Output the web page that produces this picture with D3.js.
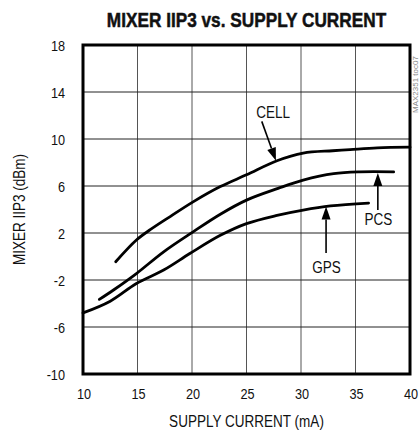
<!DOCTYPE html>
<html>
<head>
<meta charset="utf-8">
<script src="https://cdn.jsdelivr.net/npm/d3@7"></script>
<style>
  html, body { margin: 0; padding: 0; background: #fff; }
  svg text { font-family: "Liberation Sans", Arial, Helvetica, sans-serif; fill: #111; }
</style>
</head>
<body>
<svg id="chart" width="420" height="436"></svg>
<script>
// values
const xTicks = [10, 15, 20, 25, 30, 35, 40];
const yTicks = [-10, -6, -2, 2, 6, 10, 14, 18];

const cell = [
  [13.0, -0.45], [14.9, 1.4], [16.2, 2.3], [18.0, 3.4], [20.1, 4.65],
  [22.6, 5.95], [25.0, 6.95], [27.8, 8.15], [30.2, 8.8], [32.9, 9.0],
  [34.5, 9.1], [37.0, 9.25], [40.0, 9.3]
];
const pcs = [
  [11.5, -3.65], [12.8, -2.85], [14.9, -1.45], [17.4, 0.4], [20.1, 2.1],
  [22.6, 3.6], [25.0, 4.8], [27.9, 5.8], [30.2, 6.5], [33.0, 7.05],
  [35.4, 7.2], [38.5, 7.2]
];
const gps = [
  [10.0, -4.8], [12.5, -3.8], [14.9, -2.3], [17.4, -1.15], [19.8, 0.25],
  [22.6, 1.8], [25.0, 2.8], [27.8, 3.5], [30.2, 3.95], [32.7, 4.3],
  [36.2, 4.55]
];

// label text, arrow start and arrow tip (data units)
const labels = [
  { name: "CELL", text: [27.45, 11.75], from: [26.4, 11.5], to: [27.7, 8.15] },
  { name: "PCS", text: [37.1, 2.7], from: [37.05, 3.95], to: [37.05, 7.1] },
  { name: "GPS", text: [32.35, -1.4], from: [32.3, 0.3], to: [32.3, 4.25] }
];

const svg = d3.select("#chart");
const m = { left: 83, right: 410, top: 45, bottom: 374 };

const x = d3.scaleLinear().domain([10, 40]).range([m.left, m.right]);
const y = d3.scaleLinear().domain([-10, 18]).range([m.bottom, m.top]);

// condensed look: squeeze text horizontally
function label(px, py, str, size, anchor, rot, k) {
  return svg.append("text")
    .attr("transform", `translate(${px},${py})` + (rot ? ` rotate(${rot})` : "") + ` scale(${k || 0.82},1)`)
    .attr("text-anchor", anchor || "middle")
    .attr("font-size", size)
    .text(str);
}

// grid
svg.append("g")
  .selectAll("line")
  .data(xTicks.slice(1, -1))
  .join("line")
  .attr("x1", d => x(d)).attr("x2", d => x(d))
  .attr("y1", m.top).attr("y2", m.bottom)
  .attr("stroke", "#555").attr("stroke-width", 1);

svg.append("g")
  .selectAll("line")
  .data(yTicks.slice(1, -1))
  .join("line")
  .attr("x1", m.left).attr("x2", m.right)
  .attr("y1", d => y(d)).attr("y2", d => y(d))
  .attr("stroke", "#222").attr("stroke-width", 1);

// tick labels
xTicks.forEach(d => label(x(d) + 1, 399, d, 15.5));
yTicks.forEach(d => label(65, y(d) + 5.5, d, 15.5, "end"));

// curves
const line = d3.line()
  .x(d => x(d[0]))
  .y(d => y(d[1]))
  .curve(d3.curveCatmullRom.alpha(0.5));

[cell, pcs, gps].forEach(s => {
  svg.append("path")
    .datum(s)
    .attr("d", line)
    .attr("fill", "none")
    .attr("stroke", "#000")
    .attr("stroke-width", 2.8)
    .attr("stroke-linecap", "round");
});

// frame
svg.append("rect")
  .attr("x", m.left).attr("y", m.top)
  .attr("width", m.right - m.left).attr("height", m.bottom - m.top)
  .attr("fill", "none")
  .attr("stroke", "#000")
  .attr("stroke-width", 3);

// labels with arrows
labels.forEach(l => {
  const x0 = x(l.from[0]), y0 = y(l.from[1]);
  const x1 = x(l.to[0]), y1 = y(l.to[1]);
  const a = Math.atan2(y1 - y0, x1 - x0);
  const hl = 13, hw = 4.5;
  const bx = x1 - hl * Math.cos(a), by = y1 - hl * Math.sin(a);
  svg.append("line")
    .attr("x1", x0).attr("y1", y0).attr("x2", bx).attr("y2", by)
    .attr("stroke", "#000").attr("stroke-width", 1.6);
  svg.append("path")
    .attr("d", `M${x1},${y1}L${bx - hw * Math.sin(a)},${by + hw * Math.cos(a)}L${bx + hw * Math.sin(a)},${by - hw * Math.cos(a)}Z`)
    .attr("fill", "#000");
  label(x(l.text[0]), y(l.text[1]), l.name, 16.5);
});

// titles
label((m.left + m.right) / 2, 27, "MIXER IIP3 vs. SUPPLY CURRENT", 20.5, "middle", 0, 0.84)
  .attr("font-weight", "bold")
  .style("stroke", "#111")
  .style("stroke-width", 0.5);

label((m.left + m.right) / 2, 427, "SUPPLY CURRENT (mA)", 16.5);
label(25, (m.top + m.bottom) / 2, "MIXER IIP3 (dBm)", 16.5, "middle", -90);

label(418, 113, "MAX2351 toc07", 8, "start", -90, 1)
  .style("fill", "#888");
</script>
</body>
</html>
